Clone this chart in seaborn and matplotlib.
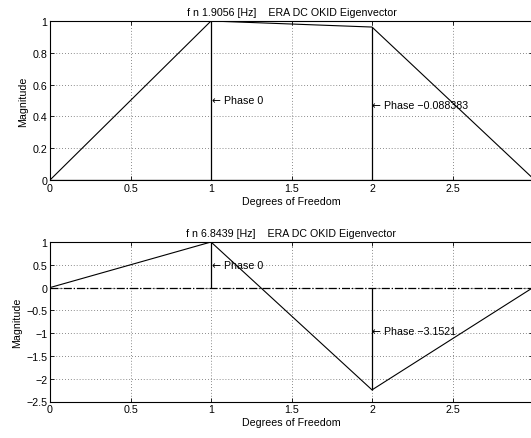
import matplotlib
matplotlib.use("Agg")
import matplotlib.pyplot as plt
import seaborn as sns
import pandas as pd
import numpy as np

sns.set_theme(style="white")
plt.rcParams['font.family'] = ['Liberation Sans', 'DejaVu Sans']
plt.rcParams['text.color'] = 'black'
plt.rcParams['axes.labelcolor'] = 'black'

dof = [0, 1, 2, 3]
mode1 = [0.0, 1.0, 0.962, 0.01]
mode2 = [0.0, 1.0, -2.245, 0.0]
titles = ["f n 1.9056 [Hz]    ERA DC OKID Eigenvector",
          "f n 6.8439 [Hz]    ERA DC OKID Eigenvector"]
phase_x = [1, 2]
phase1_labels = ["Phase 0", "Phase \u22120.088383"]
phase1_y = [0.50, 0.47]
phase2_labels = ["Phase 0", "Phase \u22123.1521"]
phase2_y = [0.50, -0.95]
xticks = [0, 0.5, 1, 1.5, 2, 2.5]
yticks1 = [0, 0.2, 0.4, 0.6, 0.8, 1]
yticks2 = [-2.5, -2, -1.5, -1, -0.5, 0, 0.5, 1]

fig = plt.figure(figsize=(5.31, 4.39), dpi=100)
ax1 = fig.add_axes([50/531, 1-181/439, 483/531, 159/439])
ax2 = fig.add_axes([50/531, 1-402.5/439, 483/531, 159.5/439])

fs = 7.7
def style(ax, ylim, yticks, title):
    ax.set_xlim(0, 3)
    ax.set_ylim(*ylim)
    ax.set_xticks(xticks)
    ax.set_xticklabels([("%g" % t).replace("-", "\u2212") for t in xticks], fontsize=fs)
    ax.set_yticks(yticks)
    ax.set_yticklabels([("%g" % t).replace("-", "\u2212") for t in yticks], fontsize=fs)
    ax.grid(True, linestyle=(0, (1, 2.5)), color="#666666", linewidth=0.6)
    ax.tick_params(direction="in", length=3, width=0.6, colors="black", pad=2,
                   top=True, right=True, bottom=True, left=True)
    for s in ax.spines.values():
        s.set_color("black")
        s.set_linewidth(0.8)
    ax.set_title(title, fontsize=fs, pad=4, color="black")
    ax.set_xlabel("Degrees of Freedom", fontsize=fs, labelpad=2)
    ax.set_ylabel("Magnitude", fontsize=fs, labelpad=3)

for ax, vals, ylim, yt, title, labs, ly in [
        (ax1, mode1, (0, 1), yticks1, titles[0], phase1_labels, phase1_y),
        (ax2, mode2, (-2.5, 1), yticks2, titles[1], phase2_labels, phase2_y)]:
    df = pd.DataFrame({"dof": dof, "val": vals})
    sns.lineplot(data=df, x="dof", y="val", ax=ax, color="black", linewidth=0.8)
    ax.vlines(df["dof"], 0, df["val"], color="black", linewidth=0.9)
    ax.axhline(0, color="black", linewidth=0.9, linestyle="-." if ax is ax2 else "-")
    for x, y, t in zip(phase_x, ly, labs):
        ax.text(x, y, "\u2190", fontsize=fs, va="center", ha="left",
                family=['DejaVu Sans'])
        ax.annotate(t, xy=(x, y), xytext=(9, 0), textcoords="offset points",
                    fontsize=fs, va="center", ha="left")
    style(ax, ylim, yt, title)

fig.savefig("out.png", dpi=100, facecolor="white")
